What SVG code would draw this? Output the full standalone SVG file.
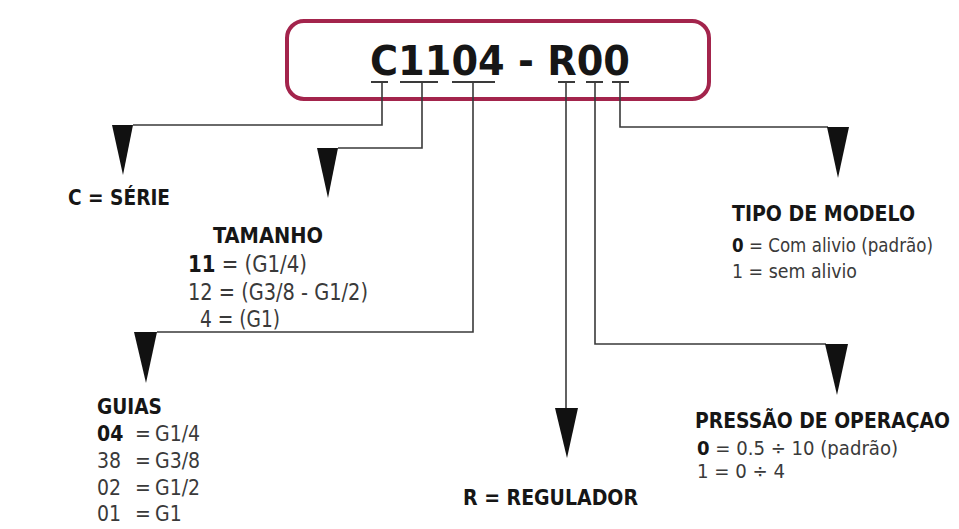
<svg xmlns="http://www.w3.org/2000/svg" width="959" height="529" viewBox="0 0 959 529">
<style>
.bg{fill:#ffffff}
.box{fill:#ffffff;stroke:#a3244c;stroke-width:4}
.ln{fill:none;stroke:#3a3a3a;stroke-width:1.6}
.ul{fill:none;stroke:#3a3a3a;stroke-width:2.2}
.ah{fill:#111111}
.h{font-family:"DejaVu Sans Condensed","DejaVu Sans","Liberation Sans",sans-serif;font-weight:bold;fill:#161616;font-stretch:condensed}
.b{font-family:"DejaVu Sans Condensed","DejaVu Sans","Liberation Sans",sans-serif;font-weight:normal;fill:#3a3a3a;font-stretch:condensed}
.bb{font-weight:bold;fill:#161616}
</style>
<rect class="bg" x="0" y="0" width="959" height="529"/>
<g id="code">
<rect class="box" x="287" y="21" width="422" height="78" rx="17"/>
<text class="h" x="370" y="75" font-size="41" textLength="260" lengthAdjust="spacingAndGlyphs">C1104 - R00</text>
</g>
<g id="connectors">
<path class="ul" d="M371 82H388M400 82H438M452 82H495M558 82H575M586 82H603M612 82H629"/>
<path class="ln" d="M382 83V125H133"/>
<path class="ln" d="M422 83V148H338"/>
<path class="ln" d="M473 83V332H157"/>
<path class="ln" d="M566 83V410"/>
<path class="ln" d="M595 83V344H826"/>
<path class="ln" d="M620 83V127H828"/>
<polygon class="ah" points="112,125 133,125 123,175"/>
<polygon class="ah" points="317,148 338,148 328,198"/>
<polygon class="ah" points="134,332 157,332 146,383"/>
<polygon class="ah" points="555,408 578,408 567,458"/>
<polygon class="ah" points="825,344 848,344 837,395"/>
<polygon class="ah" points="827,127 849,127 838,178"/>
</g>
<g id="serie">
<text class="h" x="68" y="205" font-size="21" textLength="102" lengthAdjust="spacingAndGlyphs">C = SÉRIE</text>
</g>
<g id="tamanho">
<text class="h" x="213" y="243" font-size="22" textLength="110" lengthAdjust="spacingAndGlyphs">TAMANHO</text>
<text class="b" x="188" y="272" font-size="23" textLength="119" lengthAdjust="spacingAndGlyphs"><tspan class="bb">11</tspan> = (G1/4)</text>
<text class="b" x="188" y="300" font-size="23" textLength="180" lengthAdjust="spacingAndGlyphs">12 = (G3/8 - G1/2)</text>
<text class="b" x="200" y="327" font-size="23" textLength="80" lengthAdjust="spacingAndGlyphs">4 = (G1)</text>
</g>
<g id="guias">
<text class="h" x="97" y="414" font-size="22" textLength="65" lengthAdjust="spacingAndGlyphs">GUIAS</text>
<text class="b" font-size="21"><tspan class="bb" x="97" y="441">04</tspan><tspan x="135" y="441">=</tspan><tspan x="155" y="441">G1/4</tspan></text>
<text class="b" font-size="21"><tspan x="97" y="468">38</tspan><tspan x="135" y="468">=</tspan><tspan x="155" y="468">G3/8</tspan></text>
<text class="b" font-size="21"><tspan x="97" y="495">02</tspan><tspan x="135" y="495">=</tspan><tspan x="155" y="495">G1/2</tspan></text>
<text class="b" font-size="21"><tspan x="97" y="521">01</tspan><tspan x="135" y="521">=</tspan><tspan x="155" y="521">G1</tspan></text>
</g>
<g id="regulador">
<text class="h" x="463" y="505" font-size="22" textLength="175" lengthAdjust="spacingAndGlyphs">R = REGULADOR</text>
</g>
<g id="tipo">
<text class="h" x="732" y="221" font-size="22" textLength="183" lengthAdjust="spacingAndGlyphs">TIPO DE MODELO</text>
<text class="b" x="732" y="252" font-size="20" textLength="201" lengthAdjust="spacingAndGlyphs"><tspan class="bb">0</tspan> = Com alivio (padrão)</text>
<text class="b" x="732" y="278" font-size="20" textLength="125" lengthAdjust="spacingAndGlyphs">1 = sem alivio</text>
</g>
<g id="pressao">
<text class="h" x="695" y="428" font-size="21" textLength="255" lengthAdjust="spacingAndGlyphs">PRESSÃO DE OPERAÇAO</text>
<text class="b" x="697" y="455" font-size="20" textLength="201" lengthAdjust="spacingAndGlyphs"><tspan class="bb">0</tspan> = 0.5 ÷ 10 (padrão)</text>
<text class="b" x="697" y="478" font-size="20" textLength="88" lengthAdjust="spacingAndGlyphs">1 = 0 ÷ 4</text>
</g>
</svg>
